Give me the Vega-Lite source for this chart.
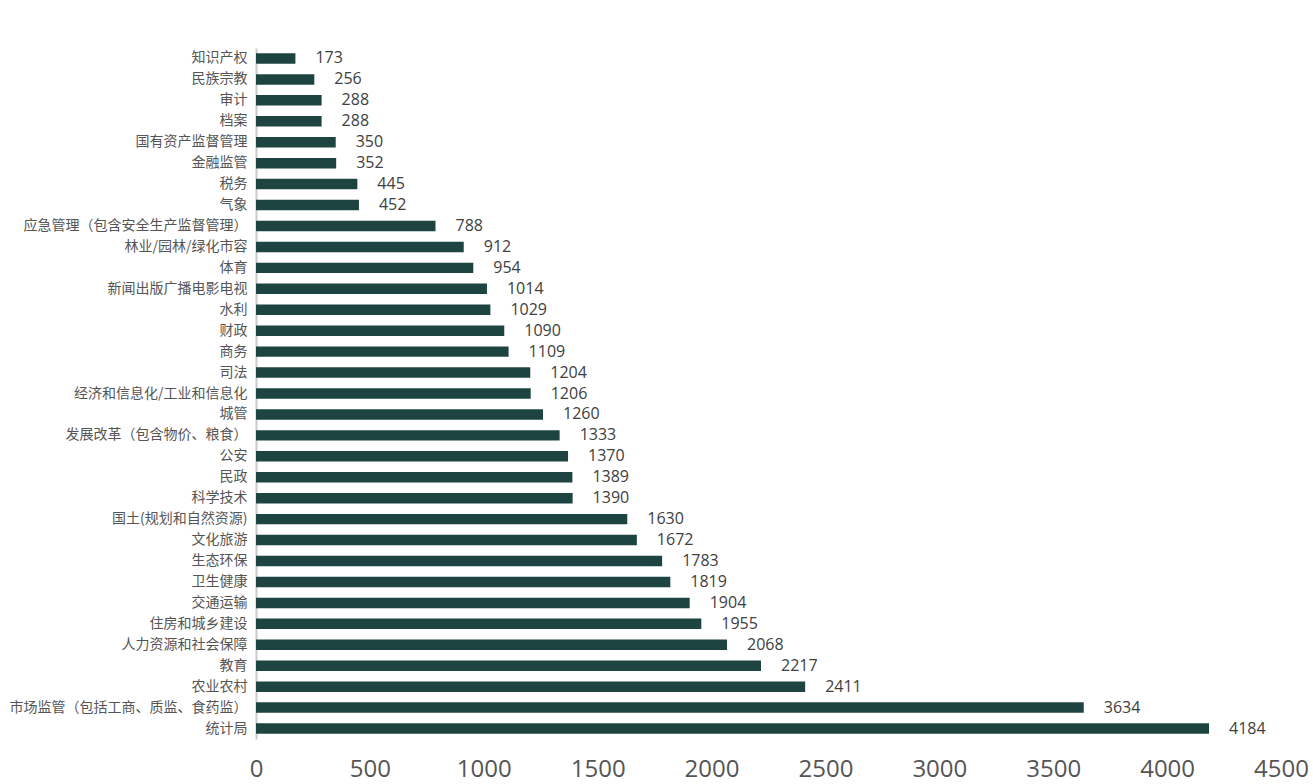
{
  "$schema": "https://vega.github.io/schema/vega-lite/v6.json",
  "width": 1025,
  "height": 691,
  "autosize": {"type": "none"},
  "padding": {"left": 256, "top": 48, "right": 32, "bottom": 45},
  "background": "white",
  "config": {"view": {"stroke": null}, "font": "Open Sans, Noto Sans CJK SC"},
  "data": {"values": [
    {"name": "知识产权", "value": 173},
    {"name": "民族宗教", "value": 256},
    {"name": "审计", "value": 288},
    {"name": "档案", "value": 288},
    {"name": "国有资产监督管理", "value": 350},
    {"name": "金融监管", "value": 352},
    {"name": "税务", "value": 445},
    {"name": "气象", "value": 452},
    {"name": "应急管理（包含安全生产监督管理）", "value": 788},
    {"name": "林业/园林/绿化市容", "value": 912},
    {"name": "体育", "value": 954},
    {"name": "新闻出版广播电影电视", "value": 1014},
    {"name": "水利", "value": 1029},
    {"name": "财政", "value": 1090},
    {"name": "商务", "value": 1109},
    {"name": "司法", "value": 1204},
    {"name": "经济和信息化/工业和信息化", "value": 1206},
    {"name": "城管", "value": 1260},
    {"name": "发展改革（包含物价、粮食）", "value": 1333},
    {"name": "公安", "value": 1370},
    {"name": "民政", "value": 1389},
    {"name": "科学技术", "value": 1390},
    {"name": "国土(规划和自然资源)", "value": 1630},
    {"name": "文化旅游", "value": 1672},
    {"name": "生态环保", "value": 1783},
    {"name": "卫生健康", "value": 1819},
    {"name": "交通运输", "value": 1904},
    {"name": "住房和城乡建设", "value": 1955},
    {"name": "人力资源和社会保障", "value": 2068},
    {"name": "教育", "value": 2217},
    {"name": "农业农村", "value": 2411},
    {"name": "市场监管（包括工商、质监、食药监）", "value": 3634},
    {"name": "统计局", "value": 4184}
  ]},
  "encoding": {
    "y": {
      "field": "name", "type": "nominal", "sort": null,
      "scale": {"paddingInner": 0.5, "paddingOuter": 0.25},
      "axis": {
        "title": null, "ticks": false, "domainColor": "#cccccc", "domainWidth": 2,
        "labelFontSize": 14, "labelColor": "#555555", "labelPadding": 9,
        "labelFont": "Noto Sans CJK SC", "labelLimit": 400
      }
    },
    "x": {
      "field": "value", "type": "quantitative",
      "scale": {"domain": [0, 4500], "nice": false},
      "axis": {
        "title": null, "grid": false, "domain": false, "ticks": false,
        "values": [0, 500, 1000, 1500, 2000, 2500, 3000, 3500, 4000, 4500],
        "format": "d",
        "labelFontSize": 24, "labelColor": "#555555", "labelPadding": 18,
        "labelFont": "Open Sans", "labelFlush": false
      }
    }
  },
  "layer": [
    {"mark": {"type": "bar", "color": "#1e4441"}},
    {"mark": {"type": "text", "align": "left", "dx": 20, "fontSize": 16, "color": "#404040", "font": "Open Sans"},
     "encoding": {"text": {"field": "value", "type": "quantitative", "format": "d"}}}
  ]
}
